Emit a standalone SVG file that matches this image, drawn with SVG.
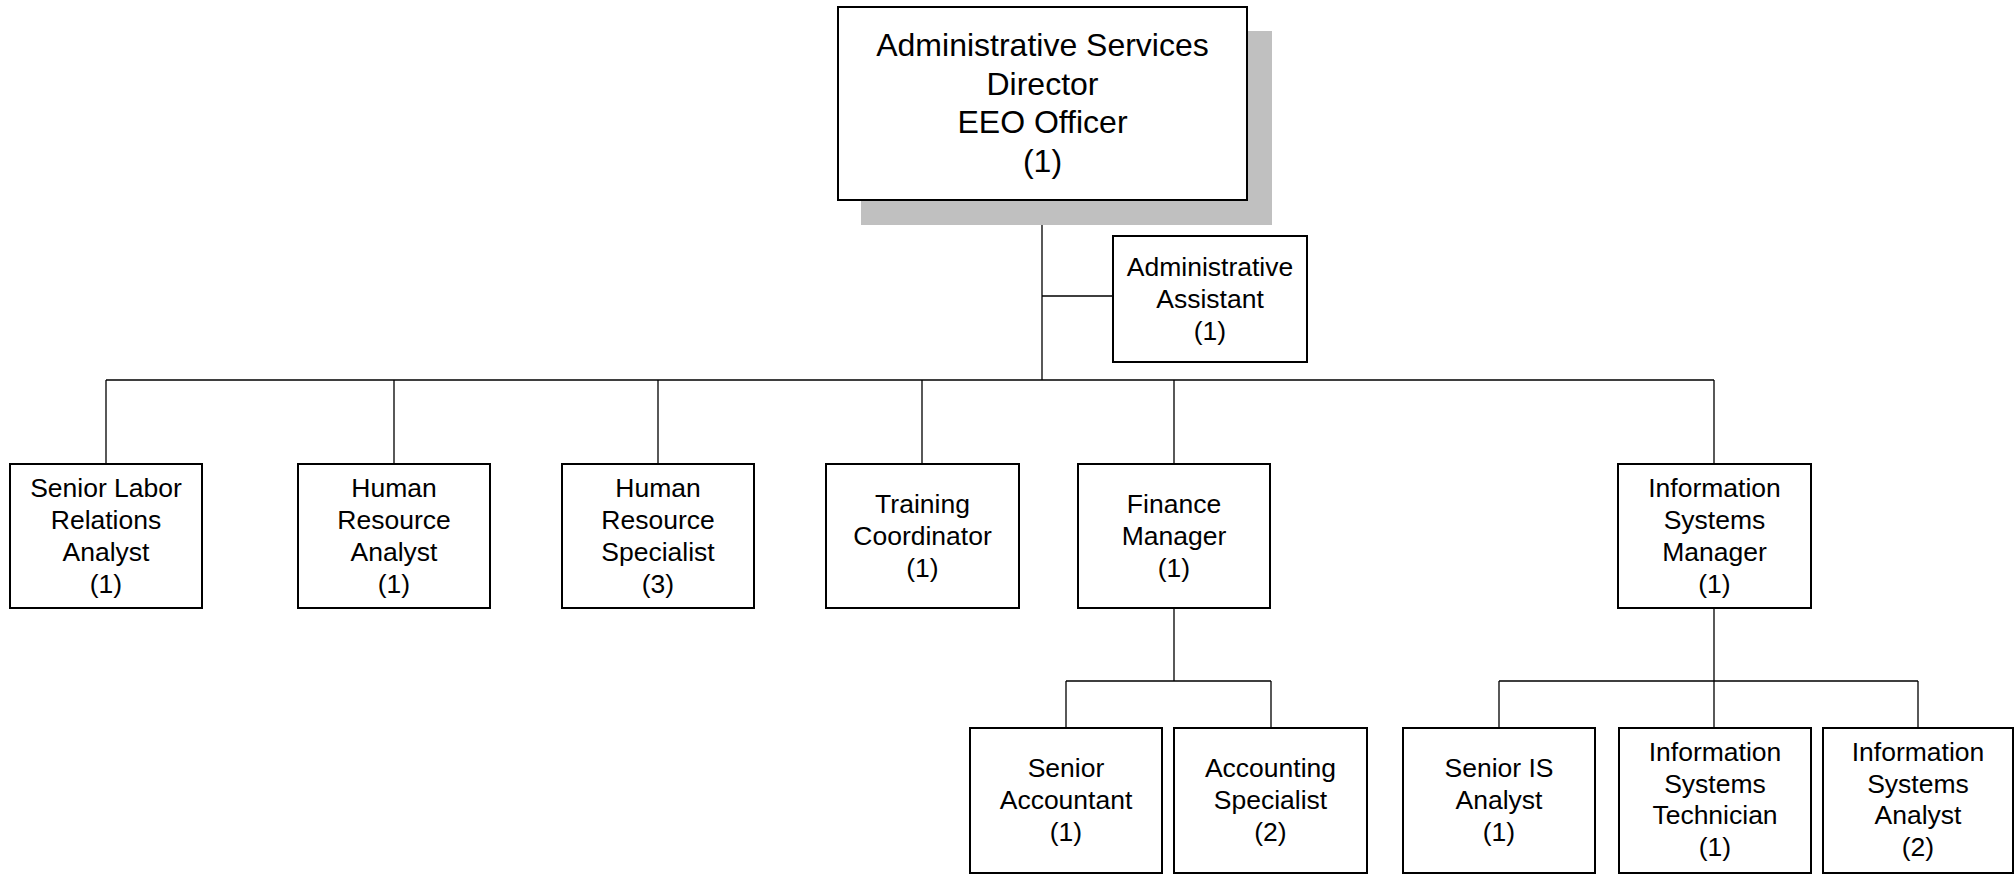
<svg xmlns="http://www.w3.org/2000/svg" width="2014" height="874" viewBox="0 0 2014 874">
<style>
.box{fill:#fff;stroke:#000;stroke-width:2}
.shadow{fill:#c0c0c0}
.conn{stroke:#000;stroke-width:1.3;fill:none}
text{font-family:"Liberation Sans",Arial,sans-serif;font-size:26.5px;fill:#000;text-anchor:middle}
.big{font-size:32px}
</style>
<rect width="2014" height="874" fill="#fff"/>
<g id="connectors">
<path class="conn" d="M1042,200V380M1042,296H1113M106,380H1714M106,380V464M394,380V464M658,380V464M922,380V464M1174,380V464M1714,380V464"/>
<path class="conn" d="M1174,608V681M1066,681H1271M1066,681V728M1271,681V728"/>
<path class="conn" d="M1714,608V728M1499,681H1918M1499,681V728M1918,681V728"/>
</g>
<g id="director">
<rect class="shadow" x="861" y="31" width="411" height="194"/>
<rect class="box" x="838" y="7" width="409" height="193"/>
<text class="big" x="1042.5"><tspan x="1042.5" y="56">Administrative Services</tspan><tspan x="1042.5" y="94.5">Director</tspan><tspan x="1042.5" y="133">EEO Officer</tspan><tspan x="1042.5" y="171.5">(1)</tspan></text>
</g>
<g id="admin-assistant">
<rect class="box" x="1113" y="236" width="194" height="126"/>
<text><tspan x="1210" y="276">Administrative</tspan><tspan x="1210" y="308">Assistant</tspan><tspan x="1210" y="340">(1)</tspan></text>
</g>
<g id="senior-labor">
<rect class="box" x="10" y="464" width="192" height="144"/>
<text><tspan x="106" y="497">Senior Labor</tspan><tspan x="106" y="529">Relations</tspan><tspan x="106" y="561">Analyst</tspan><tspan x="106" y="593">(1)</tspan></text>
</g>
<g id="hr-analyst">
<rect class="box" x="298" y="464" width="192" height="144"/>
<text><tspan x="394" y="497">Human</tspan><tspan x="394" y="529">Resource</tspan><tspan x="394" y="561">Analyst</tspan><tspan x="394" y="593">(1)</tspan></text>
</g>
<g id="hr-specialist">
<rect class="box" x="562" y="464" width="192" height="144"/>
<text><tspan x="658" y="497">Human</tspan><tspan x="658" y="529">Resource</tspan><tspan x="658" y="561">Specialist</tspan><tspan x="658" y="593">(3)</tspan></text>
</g>
<g id="training">
<rect class="box" x="826" y="464" width="193" height="144"/>
<text><tspan x="922.5" y="513">Training</tspan><tspan x="922.5" y="545">Coordinator</tspan><tspan x="922.5" y="577">(1)</tspan></text>
</g>
<g id="finance-manager">
<rect class="box" x="1078" y="464" width="192" height="144"/>
<text><tspan x="1174" y="513">Finance</tspan><tspan x="1174" y="545">Manager</tspan><tspan x="1174" y="577">(1)</tspan></text>
</g>
<g id="is-manager">
<rect class="box" x="1618" y="464" width="193" height="144"/>
<text><tspan x="1714.5" y="497">Information</tspan><tspan x="1714.5" y="529">Systems</tspan><tspan x="1714.5" y="561">Manager</tspan><tspan x="1714.5" y="593">(1)</tspan></text>
</g>
<g id="senior-accountant">
<rect class="box" x="970" y="728" width="192" height="145"/>
<text><tspan x="1066" y="777">Senior</tspan><tspan x="1066" y="809">Accountant</tspan><tspan x="1066" y="841">(1)</tspan></text>
</g>
<g id="accounting-specialist">
<rect class="box" x="1174" y="728" width="193" height="145"/>
<text><tspan x="1270.5" y="777">Accounting</tspan><tspan x="1270.5" y="809">Specialist</tspan><tspan x="1270.5" y="841">(2)</tspan></text>
</g>
<g id="senior-is-analyst">
<rect class="box" x="1403" y="728" width="192" height="145"/>
<text><tspan x="1499" y="777">Senior IS</tspan><tspan x="1499" y="809">Analyst</tspan><tspan x="1499" y="841">(1)</tspan></text>
</g>
<g id="is-technician">
<rect class="box" x="1619" y="728" width="192" height="145"/>
<text><tspan x="1715" y="761">Information</tspan><tspan x="1715" y="792.5">Systems</tspan><tspan x="1715" y="824">Technician</tspan><tspan x="1715" y="855.5">(1)</tspan></text>
</g>
<g id="is-analyst">
<rect class="box" x="1823" y="728" width="190" height="145"/>
<text><tspan x="1918" y="761">Information</tspan><tspan x="1918" y="792.5">Systems</tspan><tspan x="1918" y="824">Analyst</tspan><tspan x="1918" y="855.5">(2)</tspan></text>
</g>
</svg>
